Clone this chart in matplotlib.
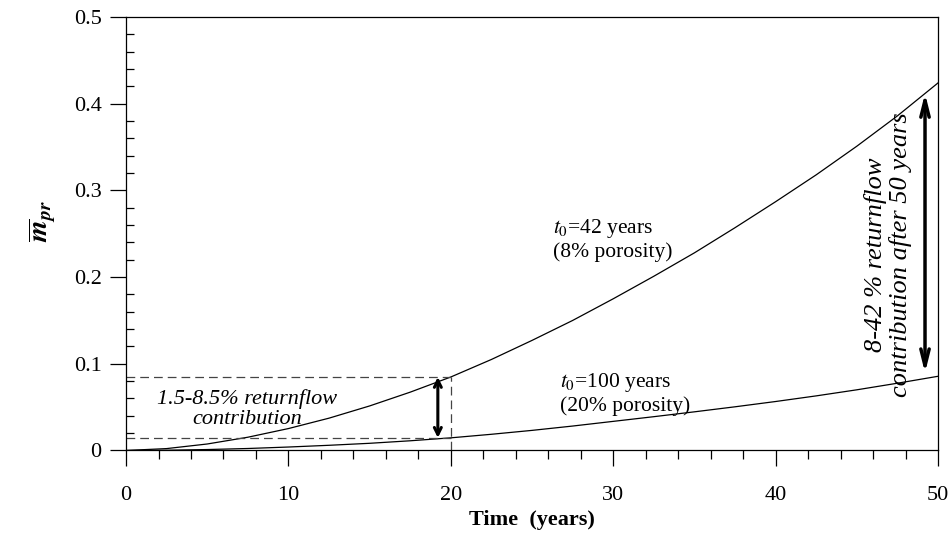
import matplotlib
matplotlib.use("Agg")
import matplotlib.pyplot as plt
from matplotlib.ticker import MultipleLocator

plt.rcParams["font.family"] = ["Liberation Serif", "DejaVu Serif"]
plt.rcParams["mathtext.fontset"] = "stix"

# values
time_years = [0, 2.5, 5, 7.5, 10, 12.5, 15, 17.5, 20, 22.5, 25,
              27.5, 30, 32.5, 35, 37.5, 40, 42.5, 45, 47.5, 50]
m_pr_t42 = [0, 0.0022, 0.0075, 0.0153, 0.0253, 0.0373, 0.0514, 0.0673,
            0.0848, 0.105, 0.127, 0.150, 0.175, 0.201, 0.228, 0.257,
            0.287, 0.318, 0.351, 0.386, 0.424]
m_pr_t100 = [0, 0.0003, 0.0011, 0.0023, 0.0040, 0.0060, 0.0083, 0.0112,
             0.0146, 0.0187, 0.0232, 0.0282, 0.0336, 0.0390, 0.0446,
             0.0504, 0.0565, 0.0630, 0.0700, 0.0776, 0.0856]

t_mark = 20
low_20, high_20 = 0.0146, 0.0848
low_50, high_50 = 0.0856, 0.424

fig = plt.figure(figsize=(9.52, 5.33), dpi=100)
ax = fig.add_axes([0.1324, 0.1548, 0.8529, 0.8132])

ax.plot(time_years, m_pr_t42, color="black", lw=0.9)
ax.plot(time_years, m_pr_t100, color="black", lw=0.9)

# dashed guide box at t = 20
dash = dict(color="#444444", lw=0.9, linestyle=(0, (7, 4)))
ax.plot([0, t_mark], [high_20, high_20], **dash)
ax.plot([0, t_mark], [low_20, low_20], **dash)
ax.plot([t_mark, t_mark], [0, high_20], **dash)

ax.annotate("", xy=(19.2, high_20), xytext=(19.2, low_20),
            arrowprops=dict(arrowstyle="<->,head_length=0.5,head_width=0.25",
                            lw=2.2, color="black", shrinkA=0, shrinkB=0))
ax.annotate("", xy=(49.2, high_50 - 0.012), xytext=(49.2, low_50 + 0.004),
            arrowprops=dict(arrowstyle="<->,head_length=1.2,head_width=0.3",
                            lw=2.5, color="black", shrinkA=0, shrinkB=0))

ax.text(7.45, 0.048, "1.5-8.5% returnflow\ncontribution", style="italic",
        fontsize=16, ha="center", va="center", linespacing=1.1)
ax.text(26.3, 0.243, "$t_0$=42 years\n(8% porosity)", fontsize=15.5,
        ha="left", va="center", linespacing=1.15)
ax.text(26.7, 0.066, "$t_0$=100 years\n(20% porosity)", fontsize=15.5,
        ha="left", va="center", linespacing=1.15)
ax.text(46.9, 0.226, "8-42 % returnflow\ncontribution after 50 years",
        style="italic", fontsize=19, rotation=90, ha="center", va="center",
        linespacing=1.12)

ax.set_xlim(0, 50)
ax.set_ylim(0, 0.5)
ax.xaxis.set_major_locator(MultipleLocator(10))
ax.xaxis.set_minor_locator(MultipleLocator(2))
ax.yaxis.set_major_locator(MultipleLocator(0.1))
ax.yaxis.set_minor_locator(MultipleLocator(0.02))
ax.yaxis.set_major_formatter(plt.FuncFormatter(lambda v, p: "0" if v == 0 else f"{v:.1f}"))

ax.tick_params(axis="x", which="major", direction="out", length=11.5,
               width=0.9, labelsize=16, pad=14)
ax.tick_params(axis="x", which="minor", direction="out", length=6.5, width=0.9)
ax.tick_params(axis="y", which="major", direction="out", length=11.5,
               width=0.9, labelsize=16, pad=6)
ax.tick_params(axis="y", which="minor", direction="in", length=6, width=0.9)
for s in ax.spines.values():
    s.set_linewidth(0.9)

ax.set_xlabel("Time  (years)", fontsize=16, fontweight="bold", labelpad=4)
ax.set_ylabel(r"$\overline{\boldsymbol{m}}_{\boldsymbol{pr}}$", fontsize=20)
ax.yaxis.set_label_coords(-0.084, 0.53)

fig.savefig("out.png", dpi=100)
